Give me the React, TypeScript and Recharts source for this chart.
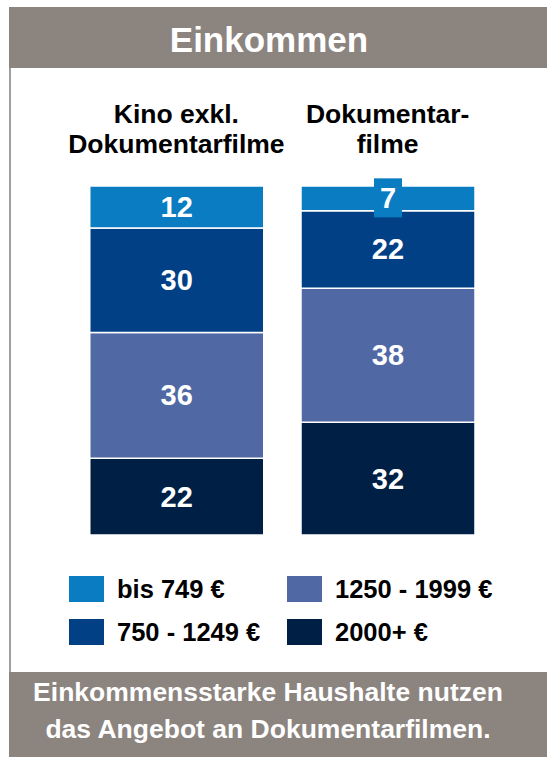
import { Bar, BarChart, LabelList, XAxis, YAxis } from "recharts";

const categories = ["Kino exkl.\nDokumentarfilme", "Dokumentar-\nfilme"];
const bis749 = [12, 7];
const von750 = [30, 22];
const von1250 = [36, 38];
const ab2000 = [22, 32];

const seriesNames = ["bis 749 €", "750 - 1249 €", "1250 - 1999 €", "2000+ €"];
const seriesKeys = ["bis749", "von750", "von1250", "ab2000"];
const seriesColors = ["#0A7CC2", "#024086", "#5069A5", "#001F45"];

const data = categories.map((name, i) => ({
  name,
  bis749: bis749[i],
  von750: von750[i],
  von1250: von1250[i],
  ab2000: ab2000[i],
}));

const FONT = "'Liberation Sans', Arial, sans-serif";
const GRAY = "#8C847F";

function CategoryTick({ x, payload }: any) {
  const lines = String(payload.value).split("\n");
  return (
    <text
      x={x}
      textAnchor="middle"
      fontFamily={FONT}
      fontWeight={700}
      fontSize={26.5}
      fill="#000"
    >
      {lines.map((l, i) => (
        <tspan key={i} x={x} y={123 + i * 30}>
          {l}
        </tspan>
      ))}
    </text>
  );
}

function makeValueLabel(color: string) {
  return function ValueLabel(props: any) {
    const vb = props.viewBox ?? props;
    const x = Number(props.x ?? vb.x);
    const y = Number(props.y ?? vb.y);
    const w = Number(props.width ?? vb.width);
    const h = Number(props.height ?? vb.height);
    const cx = x + w / 2;
    const cy = y + h / 2;
    const small = h < 30;
    return (
      <g>
        {small && (
          <rect x={cx - 14} y={cy - 20} width={28} height={39} fill={color} />
        )}
        <text
          x={cx}
          y={cy + 10}
          textAnchor="middle"
          fontFamily={FONT}
          fontWeight={700}
          fontSize={29}
          fill="#fff"
        >
          {props.value}
        </text>
      </g>
    );
  };
}

export default function App() {
  return (
    <div
      style={{
        position: "absolute",
        left: 0,
        top: 0,
        width: 547,
        height: 760,
        background: "#fff",
        fontFamily: FONT,
        overflow: "hidden",
      }}
    >
      {/* title band */}
      <div
        style={{
          position: "absolute",
          left: 9,
          top: 7,
          width: 538,
          height: 61,
          background: GRAY,
        }}
      />
      <div
        style={{
          position: "absolute",
          left: 0,
          top: 9,
          width: 538,
          lineHeight: "61px",
          textAlign: "center",
          color: "#fff",
          fontWeight: 700,
          fontSize: 35,
        }}
      >
        Einkommen
      </div>

      {/* left frame line */}
      <div
        style={{
          position: "absolute",
          left: 9,
          top: 68,
          width: 1.5,
          height: 604,
          background: "#A49E9A",
        }}
      />

      <div style={{ position: "absolute", left: 0, top: 0 }}>
        <BarChart
          width={547}
          height={760}
          data={data}
          stackOffset="expand"
          margin={{ top: 106, bottom: 225, left: 70.75, right: 53.75 }}
        >
          <XAxis
            dataKey="name"
            orientation="top"
            height={80}
            axisLine={false}
            tickLine={false}
            tick={<CategoryTick />}
            interval={0}
          />
          <YAxis hide domain={[0, 1]} />
          {[3, 2, 1, 0].map((s) => (
            <Bar
              key={seriesKeys[s]}
              dataKey={seriesKeys[s]}
              name={seriesNames[s]}
              stackId="a"
              fill={seriesColors[s]}
              stroke="#fff"
              strokeWidth={1.5}
              barSize={174}
              isAnimationActive={false}
            >
              <LabelList
                dataKey={seriesKeys[s]}
                content={makeValueLabel(seriesColors[s])}
              />
            </Bar>
          ))}
        </BarChart>
      </div>

      {/* legend: two columns, two rows */}
      {seriesNames.map((label, s) => {
        const col = Math.floor(s / 2);
        const row = s % 2;
        return (
          <div
            key={s}
            style={{
              position: "absolute",
              left: col === 0 ? 69 : 287,
              top: 576 + row * 43,
              display: "flex",
              alignItems: "center",
              height: 26,
            }}
          >
            <div
              style={{
                width: 35,
                height: 26,
                background: seriesColors[s],
              }}
            />
            <span
              style={{
                marginLeft: 13,
                fontWeight: 700,
                fontSize: 25.5,
                color: "#000",
                whiteSpace: "nowrap",
                lineHeight: "26px",
              }}
            >
              {label}
            </span>
          </div>
        );
      })}

      {/* footer band */}
      <div
        style={{
          position: "absolute",
          left: 9,
          top: 672,
          width: 538,
          height: 85,
          background: GRAY,
        }}
      />
      <div
        style={{
          position: "absolute",
          left: 0,
          top: 674,
          width: 536,
          textAlign: "center",
          color: "#fff",
          fontWeight: 700,
          fontSize: 26.5,
          lineHeight: "37px",
        }}
      >
        Einkommensstarke Haushalte nutzen
        <br />
        das Angebot an Dokumentarfilmen.
      </div>
    </div>
  );
}
